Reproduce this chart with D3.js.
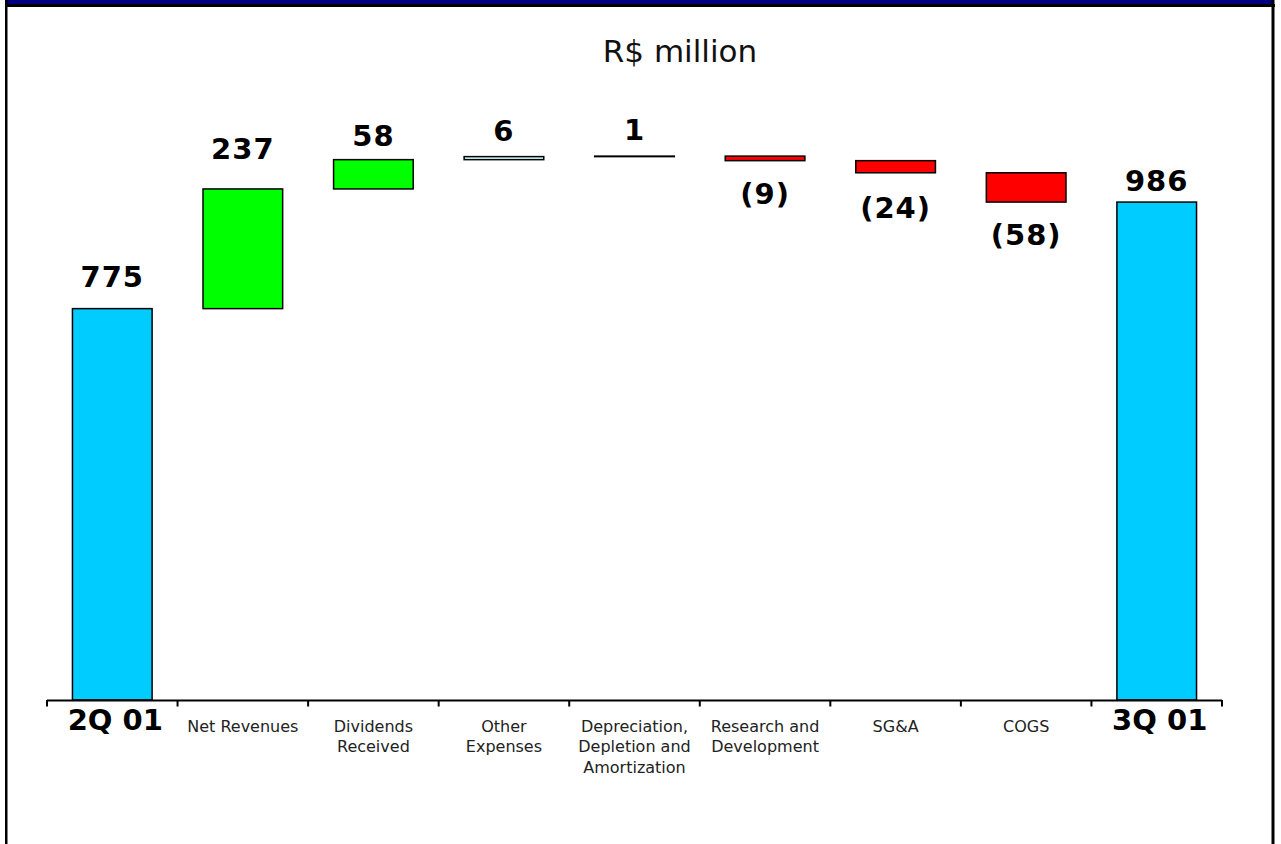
<!DOCTYPE html>
<html>
<head>
<meta charset="utf-8">
<script src="https://cdn.jsdelivr.net/npm/d3@7"></script>
<style>
  html, body { margin: 0; padding: 0; background: #fff; }
  svg { display: block; }
</style>
</head>
<body>
<svg id="chart" width="1281" height="844"></svg>
<script>
// Bridge of operating result, R$ million
const categories = ["2Q 01", "Net Revenues", "Dividends Received", "Other Expenses",
  "Depreciation, Depletion and Amortization", "Research and Development", "SG&A", "COGS", "3Q 01"];
const categoryLines = [["2Q 01"], ["Net Revenues"], ["Dividends", "Received"], ["Other", "Expenses"],
  ["Depreciation,", "Depletion and", "Amortization"], ["Research and", "Development"], ["SG&A"], ["COGS"], ["3Q 01"]];
const values = [775, 237, 58, 6, 1, -9, -24, -58, 986];
const kinds = ["total", "increase", "increase", "minor", "minor", "decrease", "decrease", "decrease", "total"];

// distance (px) between each value label and its bar edge
const labelGaps = [22, 30, 14, 16, 16, 43, 45, 43, 11];

const fills = { total: "#00CCFF", increase: "#00FF00", minor: "#CCFFFF", decrease: "#FF0000" };

const svg = d3.select("#chart");
const W = 1281, H = 844;

// frame
svg.append("rect").attr("x", 0).attr("y", 0).attr("width", W).attr("height", H).attr("fill", "#fff");
svg.append("rect").attr("x", 7).attr("y", 0).attr("width", 1265).attr("height", 4).attr("fill", "#000080");
svg.append("rect").attr("x", 5).attr("y", 4).attr("width", 1270).attr("height", 3).attr("fill", "#000");
svg.append("rect").attr("x", 5).attr("y", 0).attr("width", 2.5).attr("height", H).attr("fill", "#000");
svg.append("rect").attr("x", 1271.5).attr("y", 0).attr("width", 3).attr("height", H).attr("fill", "#000");

// waterfall steps
let running = 0;
const steps = categories.map((c, i) => {
  const v = values[i];
  let start, end;
  if (kinds[i] === "total") { start = 0; end = v; running = v; }
  else { start = running; end = running + v; running = end; }
  return { cat: c, i, value: v, kind: kinds[i], start, end };
});

const x = d3.scaleBand().domain(categories).range([47, 1222]).paddingInner(0.39).paddingOuter(0.195);
const y = d3.scaleLinear().domain([0, 1000]).range([700, 195]);
const step = x.step();

// title
svg.append("text")
  .attr("x", 680).attr("y", 62)
  .attr("text-anchor", "middle")
  .attr("font-family", "DejaVu Sans, Verdana, sans-serif")
  .attr("font-size", 31)
  .attr("fill", "#111")
  .text("R$ million");

// bars
svg.append("g").selectAll("rect").data(steps).join("rect")
  .attr("x", d => x(d.cat))
  .attr("width", x.bandwidth())
  .attr("y", d => y(Math.max(d.start, d.end)))
  .attr("height", d => Math.abs(y(d.start) - y(d.end)))
  .attr("fill", d => fills[d.kind])
  .attr("stroke", "#000")
  .attr("stroke-width", 1.5);

// value labels
const fmt = v => v < 0 ? `(${Math.abs(v)})` : `${v}`;
svg.append("g").selectAll("text").data(steps).join("text")
  .attr("x", d => x(d.cat) + x.bandwidth() / 2)
  .attr("y", d => d.value >= 0
    ? y(Math.max(d.start, d.end)) - labelGaps[d.i]
    : y(Math.min(d.start, d.end)) + labelGaps[d.i])
  .attr("text-anchor", "middle")
  .attr("font-family", "DejaVu Sans, Verdana, sans-serif")
  .attr("font-weight", "bold")
  .attr("font-size", 29)
  .attr("letter-spacing", 1)
  .attr("fill", "#000")
  .text(d => fmt(d.value));

// category axis
const axisG = svg.append("g");
axisG.append("line")
  .attr("x1", 47).attr("x2", 1222)
  .attr("y1", y(0) + 0.5).attr("y2", y(0) + 0.5)
  .attr("stroke", "#000").attr("stroke-width", 2);
const boundaries = categories.map(c => x(c) - x.paddingInner() * step / 2).concat([1222]);
axisG.selectAll("line.tick").data(boundaries).join("line")
  .attr("class", "tick")
  .attr("x1", d => d).attr("x2", d => d)
  .attr("y1", y(0)).attr("y2", y(0) + 6.5)
  .attr("stroke", "#000").attr("stroke-width", 2);

const labels = axisG.selectAll("text.cat").data(steps).join("text")
  .attr("class", "cat")
  .attr("text-anchor", "middle")
  .attr("font-family", "DejaVu Sans, Verdana, sans-serif")
  .attr("fill", d => d.kind === "total" ? "#000" : "#222")
  .attr("font-weight", d => d.kind === "total" ? "bold" : "normal")
  .attr("font-size", d => d.kind === "total" ? 29 : 16)
  .attr("x", d => x(d.cat) + x.bandwidth() / 2 + (d.kind === "total" ? 3 : 0))
  .attr("y", d => d.kind === "total" ? 729.5 : 731.5);
labels.each(function (d) {
  const t = d3.select(this);
  categoryLines[d.i].forEach((line, k) => {
    t.append("tspan")
      .attr("x", x(d.cat) + x.bandwidth() / 2 + (d.kind === "total" ? 3 : 0))
      .attr("dy", k === 0 ? 0 : 20.5)
      .text(line);
  });
});
</script>
</body>
</html>
